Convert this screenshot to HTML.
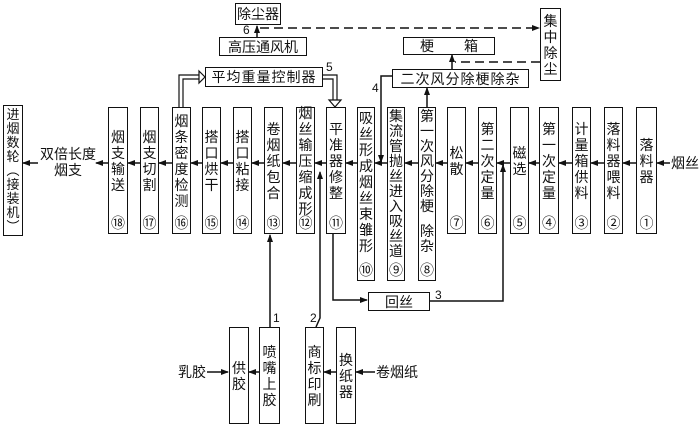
<!DOCTYPE html>
<html><head><meta charset="utf-8"><style>
body{margin:0;background:#fff;}
#c{position:relative;width:700px;height:428px;overflow:hidden;background:#fff;font-family:"Liberation Sans","Noto Sans CJK SC",sans-serif;color:#111;}
.b{position:absolute;border:1.5px solid #111;box-sizing:border-box;background:#fff;}
.v{position:absolute;left:0;right:0;display:flex;flex-direction:column;align-items:center;justify-content:center;font-size:14px;line-height:16px;}
.n{position:absolute;left:0;right:0;bottom:2px;text-align:center;font-size:14px;line-height:15px;}
.h{position:absolute;display:flex;align-items:center;justify-content:center;font-size:14px;}
.t{position:absolute;font-size:14px;line-height:16px;}
svg{position:absolute;left:0;top:0;}
</style></head><body><div id="c">
<svg width="700" height="428" viewBox="0 0 700 428">
<defs><marker id="a" markerWidth="8" markerHeight="6" refX="7" refY="3" orient="auto" markerUnits="userSpaceOnUse"><path d="M0,0 L8,3 L0,6 z" fill="#111"/></marker></defs>
<g stroke="#111" stroke-width="1.5" fill="none">
<line x1="670" y1="163" x2="657" y2="163" marker-end="url(#a)"/>
<line x1="636" y1="163" x2="623" y2="163" marker-end="url(#a)"/>
<line x1="604" y1="163" x2="591" y2="163" marker-end="url(#a)"/>
<line x1="572" y1="163" x2="559" y2="163" marker-end="url(#a)"/>
<line x1="539" y1="163" x2="529" y2="163" marker-end="url(#a)"/>
<line x1="510" y1="163" x2="497" y2="163" marker-end="url(#a)"/>
<line x1="478" y1="163" x2="466" y2="163" marker-end="url(#a)"/>
<line x1="447" y1="163" x2="436" y2="163" marker-end="url(#a)"/>
<line x1="418" y1="163" x2="405" y2="163" marker-end="url(#a)"/>
<line x1="387" y1="163" x2="375" y2="163" marker-end="url(#a)"/>
<line x1="357" y1="163" x2="346" y2="163" marker-end="url(#a)"/>
<line x1="326" y1="163" x2="315" y2="163" marker-end="url(#a)"/>
<line x1="296" y1="163" x2="283" y2="163" marker-end="url(#a)"/>
<line x1="264" y1="163" x2="252" y2="163" marker-end="url(#a)"/>
<line x1="233" y1="163" x2="221" y2="163" marker-end="url(#a)"/>
<line x1="202" y1="163" x2="191" y2="163" marker-end="url(#a)"/>
<line x1="172" y1="163" x2="159" y2="163" marker-end="url(#a)"/>
<line x1="140" y1="163" x2="128" y2="163" marker-end="url(#a)"/>
<line x1="108" y1="163" x2="96" y2="163" marker-end="url(#a)"/>
<line x1="38" y1="163" x2="23" y2="163" marker-end="url(#a)"/>
<line x1="257" y1="37" x2="257" y2="26" marker-end="url(#a)"/>
<line x1="260" y1="28" x2="539" y2="28" stroke-dasharray="9,5" marker-end="url(#a)"/>
<line x1="540" y1="62" x2="455" y2="62" stroke-dasharray="9,5"/>
<line x1="452" y1="70" x2="452" y2="55" marker-end="url(#a)"/>
<line x1="427" y1="107" x2="427" y2="88" marker-end="url(#a)"/>
<polyline points="392,76 381,76 381,162" marker-end="url(#a)"/>
<polyline points="179,107 179,75 200,75" stroke-width="1.2"/>
<polyline points="183,107 183,79 200,79" stroke-width="1.2"/>
<path d="M199,71 L205,77 L199,83 z" stroke-width="1.2" fill="#fff"/>
<polyline points="322,75 337,75 337,101" stroke-width="1.2"/>
<polyline points="322,79 333,79 333,101" stroke-width="1.2"/>
<path d="M329,100 L335,107 L341,100 z" stroke-width="1.2" fill="#fff"/>
<polyline points="333,233 333,300 367,300" marker-end="url(#a)"/>
<polyline points="430,301 503,301 503,165" marker-end="url(#a)"/>
<line x1="270" y1="327" x2="270" y2="235" marker-end="url(#a)"/>
<polyline points="316,327 320,318 320,172" marker-end="url(#a)"/>
<line x1="207" y1="372" x2="228" y2="372" marker-end="url(#a)"/>
<line x1="259" y1="372" x2="249" y2="372" marker-end="url(#a)"/>
<line x1="336" y1="372" x2="324" y2="372" marker-end="url(#a)"/>
<line x1="375" y1="372" x2="356" y2="372" marker-end="url(#a)"/>
</g>
<g font-family="Liberation Sans, sans-serif" font-size="12" fill="#111">
<text x="243" y="34">6</text><text x="326" y="71">5</text><text x="372" y="92">4</text>
<text x="435" y="299">3</text><text x="273" y="322">1</text><text x="310" y="322">2</text>
</g>
</svg>

<div class="b" style="left:3px;top:105px;width:20px;height:131px"><div class="v" style="top:0;bottom:0;font-size:13px;line-height:14px">进<br>烟<br>数<br>轮<br>︵<br>接<br>装<br>机<br>︶</div></div>
<div class="t" style="left:38px;top:146px;width:60px;text-align:center">双倍长度<br>烟支</div>

<div class="b" style="left:108px;top:107px;width:20px;height:127px"><div class="v" style="top:0;bottom:20px">烟<br>支<br>输<br>送</div><div class="n">⑱</div></div>
<div class="b" style="left:140px;top:107px;width:19px;height:127px"><div class="v" style="top:0;bottom:20px">烟<br>支<br>切<br>割</div><div class="n">⑰</div></div>
<div class="b" style="left:172px;top:107px;width:19px;height:127px"><div class="v" style="top:0;bottom:20px">烟<br>条<br>密<br>度<br>检<br>测</div><div class="n">⑯</div></div>
<div class="b" style="left:202px;top:107px;width:19px;height:127px"><div class="v" style="top:0;bottom:20px">搭<br>口<br>烘<br>干</div><div class="n">⑮</div></div>
<div class="b" style="left:233px;top:107px;width:19px;height:127px"><div class="v" style="top:0;bottom:20px">搭<br>口<br>粘<br>接</div><div class="n">⑭</div></div>
<div class="b" style="left:264px;top:107px;width:19px;height:127px"><div class="v" style="top:0;bottom:20px">卷<br>烟<br>纸<br>包<br>合</div><div class="n">⑬</div></div>
<div class="b" style="left:296px;top:107px;width:19px;height:127px"><div class="v" style="top:0;bottom:20px">烟<br>丝<br>输<br>压<br>缩<br>成<br>形</div><div class="n">⑫</div></div>
<div class="b" style="left:326px;top:107px;width:20px;height:127px"><div class="v" style="top:0;bottom:20px">平<br>准<br>器<br>修<br>整</div><div class="n">⑪</div></div>
<div class="b" style="left:357px;top:107px;width:18px;height:174px"><div class="v" style="top:2px;bottom:18px;justify-content:flex-start;line-height:16px">吸<br>丝<br>形<br>成<br>烟<br>丝<br>束<br>雏<br>形</div><div class="n">⑩</div></div>
<div class="b" style="left:387px;top:107px;width:18px;height:174px"><div class="v" style="top:1px;bottom:18px;justify-content:flex-start;line-height:15px">集<br>流<br>管<br>抛<br>丝<br>进<br>入<br>吸<br>丝<br>道</div><div class="n">⑨</div></div>
<div class="b" style="left:418px;top:107px;width:18px;height:174px"><div class="v" style="top:1px;bottom:18px;justify-content:flex-start;line-height:15px">第<br>一<br>次<br>风<br>分<br>除<br>梗<br><span style="height:10px"></span>除<br>杂</div><div class="n">⑧</div></div>
<div class="b" style="left:447px;top:107px;width:19px;height:127px"><div class="v" style="top:0;bottom:20px">松<br>散</div><div class="n">⑦</div></div>
<div class="b" style="left:478px;top:107px;width:19px;height:127px"><div class="v" style="top:0;bottom:20px">第<br>二<br>次<br>定<br>量</div><div class="n">⑥</div></div>
<div class="b" style="left:510px;top:107px;width:19px;height:127px"><div class="v" style="top:0;bottom:20px">磁<br>选</div><div class="n">⑤</div></div>
<div class="b" style="left:539px;top:107px;width:20px;height:127px"><div class="v" style="top:0;bottom:20px">第<br>一<br>次<br>定<br>量</div><div class="n">④</div></div>
<div class="b" style="left:572px;top:107px;width:19px;height:127px"><div class="v" style="top:0;bottom:20px">计<br>量<br>箱<br>供<br>料</div><div class="n">③</div></div>
<div class="b" style="left:604px;top:107px;width:19px;height:127px"><div class="v" style="top:0;bottom:20px">落<br>料<br>器<br>喂<br>料</div><div class="n">②</div></div>
<div class="b" style="left:636px;top:107px;width:21px;height:127px"><div class="v" style="top:0;bottom:20px">落<br>料<br>器</div><div class="n">①</div></div>
<div class="t" style="left:671px;top:155px">烟丝</div>

<div class="b h" style="left:235px;top:3px;width:46px;height:22px">除尘器</div>
<div class="b h" style="left:219px;top:37px;width:88px;height:19px">高压通风机</div>
<div class="b h" style="left:205px;top:67px;width:118px;height:20px;letter-spacing:1px">平均重量控制器</div>
<div class="b h" style="left:403px;top:37px;width:92px;height:18px"><span>梗</span><span style="width:30px"></span><span>箱</span></div>
<div class="b h" style="left:392px;top:69px;width:137px;height:19px;letter-spacing:1px">二次风分除梗除杂</div>
<div class="b" style="left:540px;top:8px;width:21px;height:73px"><div class="v" style="top:0;bottom:0">集<br>中<br>除<br>尘</div></div>
<div class="b h" style="left:368px;top:292px;width:62px;height:19px">回丝</div>

<div class="t" style="left:178px;top:364px">乳胶</div>
<div class="b" style="left:229px;top:327px;width:20px;height:97px"><div class="v" style="top:0;bottom:0">供<br>胶</div></div>
<div class="b" style="left:259px;top:327px;width:21px;height:97px"><div class="v" style="top:0;bottom:0">喷<br>嘴<br>上<br>胶</div></div>
<div class="b" style="left:305px;top:327px;width:19px;height:97px"><div class="v" style="top:0;bottom:0">商<br>标<br>印<br>刷</div></div>
<div class="b" style="left:336px;top:327px;width:20px;height:97px"><div class="v" style="top:0;bottom:0">换<br>纸<br>器</div></div>
<div class="t" style="left:376px;top:364px">卷烟纸</div>
</div></body></html>
